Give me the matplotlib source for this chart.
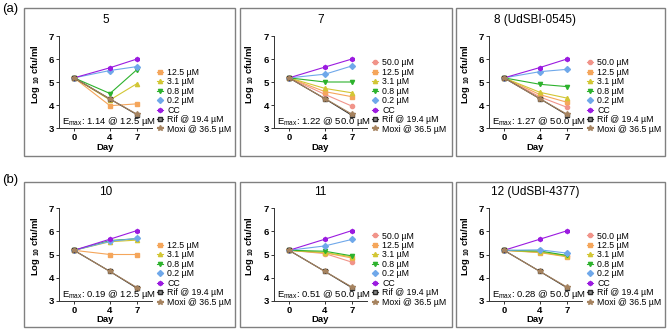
import matplotlib
matplotlib.use("Agg")
import matplotlib.pyplot as plt
from matplotlib.patches import Rectangle

plt.rcParams['font.family'] = ['Liberation Sans', 'DejaVu Sans']
plt.rcParams['mathtext.fontset'] = 'custom'
plt.rcParams['mathtext.rm'] = 'Liberation Sans'
plt.rcParams['mathtext.bf'] = 'Liberation Sans:bold'
plt.rcParams['mathtext.default'] = 'regular'

W, H = 667, 329

days = [0, 4, 7]

# log10 cfu/ml at day 0, 4, 7
cmpd5 = {
    "12.5 µM": [5.18, 3.97, 4.05],
    "3.1 µM": [5.18, 4.22, 4.93],
    "0.8 µM": [5.18, 4.50, 5.54],
    "0.2 µM": [5.18, 5.50, 5.67],
    "CC": [5.18, 5.62, 6.00],
    "Rif @ 19.4 µM": [5.18, 4.26, 3.58],
    "Moxi @ 36.5 µM": [5.18, 4.26, 3.60],
}
cmpd7 = {
    "50.0 µM": [5.18, 4.46, 3.95],
    "12.5 µM": [5.18, 4.58, 4.36],
    "3.1 µM": [5.18, 4.72, 4.53],
    "0.8 µM": [5.18, 5.00, 5.00],
    "0.2 µM": [5.18, 5.34, 5.70],
    "CC": [5.18, 5.65, 6.00],
    "Rif @ 19.4 µM": [5.18, 4.27, 3.55],
    "Moxi @ 36.5 µM": [5.18, 4.28, 3.60],
}
cmpd8 = {
    "50.0 µM": [5.18, 4.35, 3.90],
    "12.5 µM": [5.18, 4.45, 4.12],
    "3.1 µM": [5.18, 4.55, 4.30],
    "0.8 µM": [5.18, 4.90, 4.80],
    "0.2 µM": [5.18, 5.45, 5.55],
    "CC": [5.18, 5.63, 6.00],
    "Rif @ 19.4 µM": [5.18, 4.27, 3.57],
    "Moxi @ 36.5 µM": [5.18, 4.27, 3.60],
}
cmpd10 = {
    "12.5 µM": [5.18, 5.00, 5.00],
    "3.1 µM": [5.18, 5.55, 5.62],
    "0.8 µM": [5.18, 5.60, 5.68],
    "0.2 µM": [5.18, 5.57, 5.69],
    "CC": [5.18, 5.66, 6.03],
    "Rif @ 19.4 µM": [5.18, 4.27, 3.55],
    "Moxi @ 36.5 µM": [5.18, 4.27, 3.58],
}
cmpd11 = {
    "50.0 µM": [5.18, 5.04, 4.67],
    "12.5 µM": [5.18, 5.07, 4.85],
    "3.1 µM": [5.18, 5.08, 4.90],
    "0.8 µM": [5.18, 5.14, 4.94],
    "0.2 µM": [5.18, 5.37, 5.65],
    "CC": [5.18, 5.66, 6.03],
    "Rif @ 19.4 µM": [5.18, 4.27, 3.57],
    "Moxi @ 36.5 µM": [5.18, 4.27, 3.60],
}
cmpd12 = {
    "50.0 µM": [5.18, 5.10, 4.95],
    "12.5 µM": [5.18, 5.08, 4.90],
    "3.1 µM": [5.18, 5.10, 4.92],
    "0.8 µM": [5.18, 5.15, 4.96],
    "0.2 µM": [5.18, 5.20, 5.06],
    "CC": [5.18, 5.66, 6.02],
    "Rif @ 19.4 µM": [5.18, 4.27, 3.57],
    "Moxi @ 36.5 µM": [5.18, 4.27, 3.60],
}

titles = ["5", "7", "8 (UdSBI-0545)", "10", "11", "12 (UdSBI-4377)"]
panels = [cmpd5, cmpd7, cmpd8, cmpd10, cmpd11, cmpd12]
emax_vals = ["1.14", "1.22", "1.27", "0.19", "0.51", "0.28"]
emax_conc = ["12.5", "50.0", "50.0", "12.5", "50.0", "50.0"]

styles = {
    "50.0 µM": dict(color="#F1948A", marker="o"),
    "12.5 µM": dict(color="#F5A65B", marker="s"),
    "3.1 µM": dict(color="#D2C634", marker="^"),
    "0.8 µM": dict(color="#2DB22D", marker="v"),
    "0.2 µM": dict(color="#6FA8EA", marker="D"),
    "CC": dict(color="#9B1BE0", marker="h"),
    "Rif @ 19.4 µM": dict(color="#2B2B2B", marker="s", mfc="#8A8A8A"),
    "Moxi @ 36.5 µM": dict(color="#A6835F", marker="*"),
}

fig = plt.figure(figsize=(W / 100, H / 100), dpi=100)


def fx(x):
    return x / W


def fy(y):
    return 1 - y / H


box_x = [(24, 235), (240, 452), (456, 665)]
axis_left = [59, 274, 489]
rows = [dict(box=(8, 156), top=36, bottom=128), dict(box=(182, 327), top=208, bottom=301)]

fig.text(fx(2), fy(9), "(a)", fontsize=9.5, va="center", ha="left")
fig.text(fx(2), fy(180), "(b)", fontsize=9.5, va="center", ha="left")

for i, data in enumerate(panels):
    r = rows[i // 3]
    c = i % 3
    bx0, bx1 = box_x[c]
    by0, by1 = r["box"]
    fig.patches.append(Rectangle((fx(bx0), fy(by1)), fx(bx1 - bx0), (by1 - by0) / H,
                                 transform=fig.transFigure, fill=False,
                                 edgecolor="#808080", linewidth=1.0))

    left = axis_left[c]
    ax = fig.add_axes([fx(left), fy(r["bottom"]), fx(93), (r["bottom"] - r["top"]) / H])
    for name, vals in data.items():
        st = styles[name]
        ax.plot(days, vals, color=st["color"], marker=st["marker"],
                mfc=st.get("mfc", st["color"]), mec=st["color"],
                markersize=3.0 if st["marker"] != "*" else 4.2, lw=0.8,
                label=name, clip_on=False)
    ax.set_xlim(-1.67, 8.67)
    ax.set_ylim(3, 7)
    ax.set_xticks(days)
    ax.set_yticks([3, 4, 5, 6, 7])
    for s in ["top", "right"]:
        ax.spines[s].set_visible(False)
    for s in ["left", "bottom"]:
        ax.spines[s].set_linewidth(0.7)
        ax.spines[s].set_color("#333333")
    ax.tick_params(length=2, width=0.7, pad=1.5, labelsize=6.8, color="#333333")
    for lab in ax.get_xticklabels() + ax.get_yticklabels():
        lab.set_fontweight("bold")
    ax.patch.set_alpha(0)

    fig.text(fx(left + 46.5), fy(r["top"] - 16), titles[i], fontsize=8.5,
             ha="center", va="center")
    fig.text(fx(left - 24), fy((r["top"] + r["bottom"]) / 2 - 8), r"Log $_{\mathbf{10}}$ cfu/ml",
             fontsize=6.8, fontweight="bold", rotation=90, ha="center", va="center")
    fig.text(fx(left + 46.5), fy(r["bottom"] + 19), "Day", fontsize=6.8,
             fontweight="bold", ha="center", va="center")
    ax.text(0.03, 0.07, r"E$_{max}$: " + emax_vals[i] + " @ " + emax_conc[i] + " µM",
            transform=ax.transAxes, fontsize=6.8, ha="left", va="center")

    ax.legend(loc="lower left", bbox_to_anchor=(1.05, -0.06), frameon=False,
              fontsize=6.3, handlelength=0.7, handletextpad=0.5, labelspacing=0.05,
              borderpad=0, borderaxespad=0)

fig.savefig("out.png", dpi=100)
